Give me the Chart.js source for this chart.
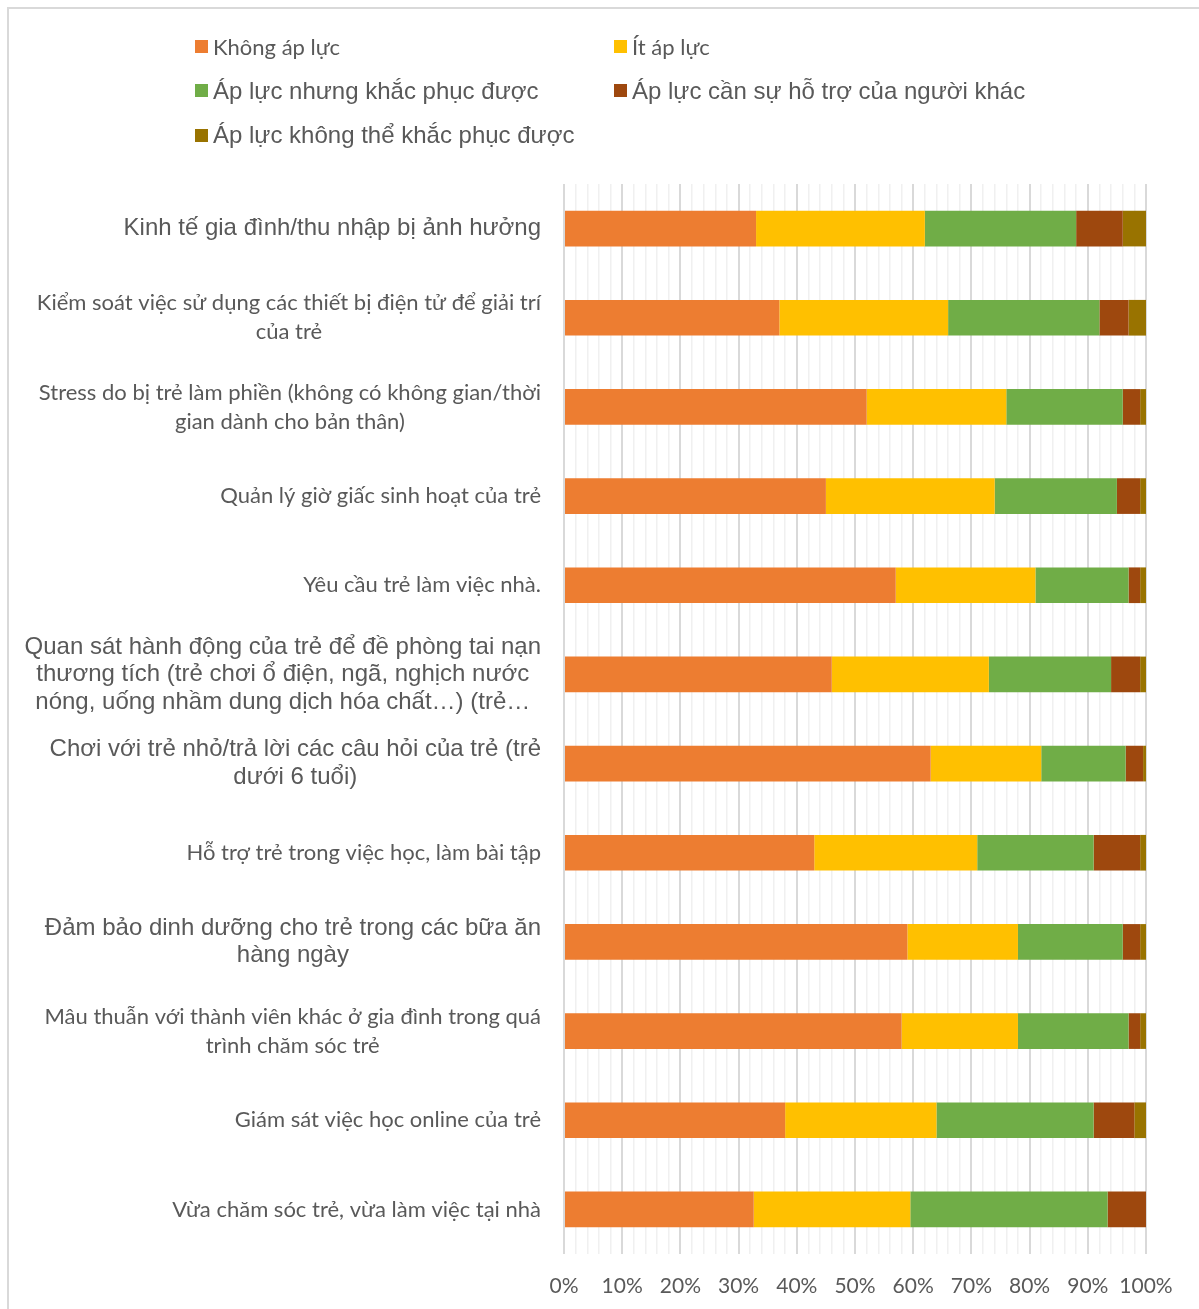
<!DOCTYPE html>
<html>
<head>
<meta charset="utf-8">
<script src="https://cdn.jsdelivr.net/npm/chart.js@4.4.1/dist/chart.umd.min.js"></script>
<style>
  html, body { margin: 0; padding: 0; background: #fff; overflow: hidden; }
  body { width: 1199px; height: 1309px; position: relative; }
  .frame { position: absolute; left: 7px; top: 7px; width: 1300px; height: 1400px; border: 2px solid #d9d9d9; box-sizing: border-box; }
  .wrap { position: absolute; left: 0; top: 0; width: 1199px; height: 1309px; }
  #legend { position: absolute; left: 195px; top: 24px; display: grid; grid-template-columns: 419px 560px; grid-auto-rows: 44.5px; }
  .item { display: flex; align-items: center; color: #595959; white-space: nowrap; }
  .box { width: 13px; height: 13px; margin-right: 5px; flex: none; }
</style>
</head>
<body>
<div class="frame"></div>
<div class="wrap"><canvas id="chart" width="1199" height="1309"></canvas></div>
<div id="legend"></div>
<script>
// danh mục (trục dọc), mỗi phần tử là các dòng của nhãn
const categories = [
  ["Kinh tế gia đình/thu nhập bị ảnh hưởng"],
  ["Kiểm soát việc sử dụng các thiết bị điện tử để giải trí", "của trẻ"],
  ["Stress do bị trẻ làm phiền (không có không gian/thời", "gian dành cho bản thân)"],
  ["Quản lý giờ giấc sinh hoạt của trẻ"],
  ["Yêu cầu trẻ làm việc nhà."],
  ["Quan sát hành động của trẻ để đề phòng tai nạn", "thương tích (trẻ chơi ổ điện, ngã, nghịch nước", "nóng, uống nhầm dung dịch hóa chất…) (trẻ…"],
  ["Chơi với trẻ nhỏ/trả lời các câu hỏi của trẻ (trẻ", "dưới 6 tuổi)"],
  ["Hỗ trợ trẻ trong việc học, làm bài tập"],
  ["Đảm bảo dinh dưỡng cho trẻ trong các bữa ăn", "hàng ngày"],
  ["Mâu thuẫn với thành viên khác ở gia đình trong quá", "trình chăm sóc trẻ"],
  ["Giám sát việc học online của trẻ"],
  ["Vừa chăm sóc trẻ, vừa làm việc tại nhà"]
];

const seriesNames = [
  "Không áp lực",
  "Ít áp lực",
  "Áp lực nhưng khắc phục được",
  "Áp lực cần sự hỗ trợ của người khác",
  "Áp lực không thể khắc phục được"
];

// % theo từng danh mục
const khongApLuc   = [33, 37, 52, 45, 57, 46, 63,   43, 59, 58, 38, 32.6];
const itApLuc      = [29, 29, 24, 29, 24, 27, 19,   28, 19, 20, 26, 26.9];
const khacPhucDuoc = [26, 26, 20, 21, 16, 21, 14.5, 20, 18, 19, 27, 33.9];
const canHoTro     = [8,  5,  3,  4,  2,  5,  3,    8,  3,  2,  7,  6.6];
const khongTheKP   = [4,  3,  1,  1,  1,  1,  0.5,  1,  1,  1,  2,  0];

const xTicks = [0, 10, 20, 30, 40, 50, 60, 70, 80, 90, 100];

const colors = ['#ED7D31', '#FFC000', '#70AD47', '#9E480E', '#997300'];

// nhãn viết bằng Arial trong bản gốc, còn lại giống Calibri
const arialRows = [0, 5, 6, 8];
const fontArial = '24px "Liberation Sans", Arial, sans-serif';
const fontCalibri = '22px Lato, "Open Sans", sans-serif';

const allSeries = [khongApLuc, itApLuc, khacPhucDuoc, canHoTro, khongTheKP];

// legend html
const legendEl = document.getElementById('legend');
seriesNames.forEach((name, i) => {
  const it = document.createElement('div');
  it.className = 'item';
  it.style.font = i < 2 ? fontCalibri : fontArial;
  it.innerHTML = `<span class="box" style="background:${colors[i]}"></span><span>${name}</span>`;
  legendEl.appendChild(it);
});

const catLabels = {
  id: 'catLabels',
  afterDraw(chart) {
    const ctx = chart.ctx;
    const yScale = chart.scales.y;
    const right = chart.chartArea.left - 23;
    ctx.save();
    ctx.fillStyle = '#595959';
    ctx.textAlign = 'center';
    ctx.textBaseline = 'middle';
    categories.forEach((lines, i) => {
      const isArial = arialRows.includes(i);
      ctx.font = isArial ? fontArial : fontCalibri;
      const lh = isArial ? 27.5 : 29;
      const w = Math.max(...lines.map(l => ctx.measureText(l).width));
      const cx = right - w / 2;
      const cy = yScale.getPixelForTick(i);
      lines.forEach((l, k) => {
        ctx.fillText(l, cx, cy + (k - (lines.length - 1) / 2) * lh);
      });
    });
    ctx.restore();
  }
};

const ctx = document.getElementById('chart').getContext('2d');
new Chart(ctx, {
  type: 'bar',
  data: {
    labels: categories.map(c => c.join(' ')),
    datasets: allSeries.map((d, i) => ({
      label: seriesNames[i],
      data: d,
      backgroundColor: colors[i],
      borderWidth: 0,
      barPercentage: 0.8,
      categoryPercentage: 0.5
    }))
  },
  options: {
    indexAxis: 'y',
    responsive: false,
    animation: false,
    layout: { padding: { left: 0, right: 53, top: 184, bottom: 0 } },
    plugins: {
      legend: { display: false },
      tooltip: { enabled: false }
    },
    scales: {
      x: {
        stacked: true,
        min: 0,
        max: 100,
        border: { display: false },
        grid: {
          drawTicks: false,
          color: c => xTicks.includes(c.tick.value) ? '#d9d9d9' : '#f0f0f0',
          lineWidth: c => xTicks.includes(c.tick.value) ? 2 : 1.5
        },
        ticks: {
          stepSize: 2,
          autoSkip: false,
          maxRotation: 0,
          padding: 20,
          color: '#595959',
          font: { family: 'Lato, "Open Sans", sans-serif', size: 21 },
          callback: v => xTicks.includes(v) ? v + '%' : ''
        },
        afterFit: s => { s.height = 55; }
      },
      y: {
        stacked: true,
        border: { display: false },
        grid: { display: false },
        ticks: { display: false },
        afterFit: s => { s.width = 564; }
      }
    }
  },
  plugins: [catLabels]
});
</script>
</body>
</html>
